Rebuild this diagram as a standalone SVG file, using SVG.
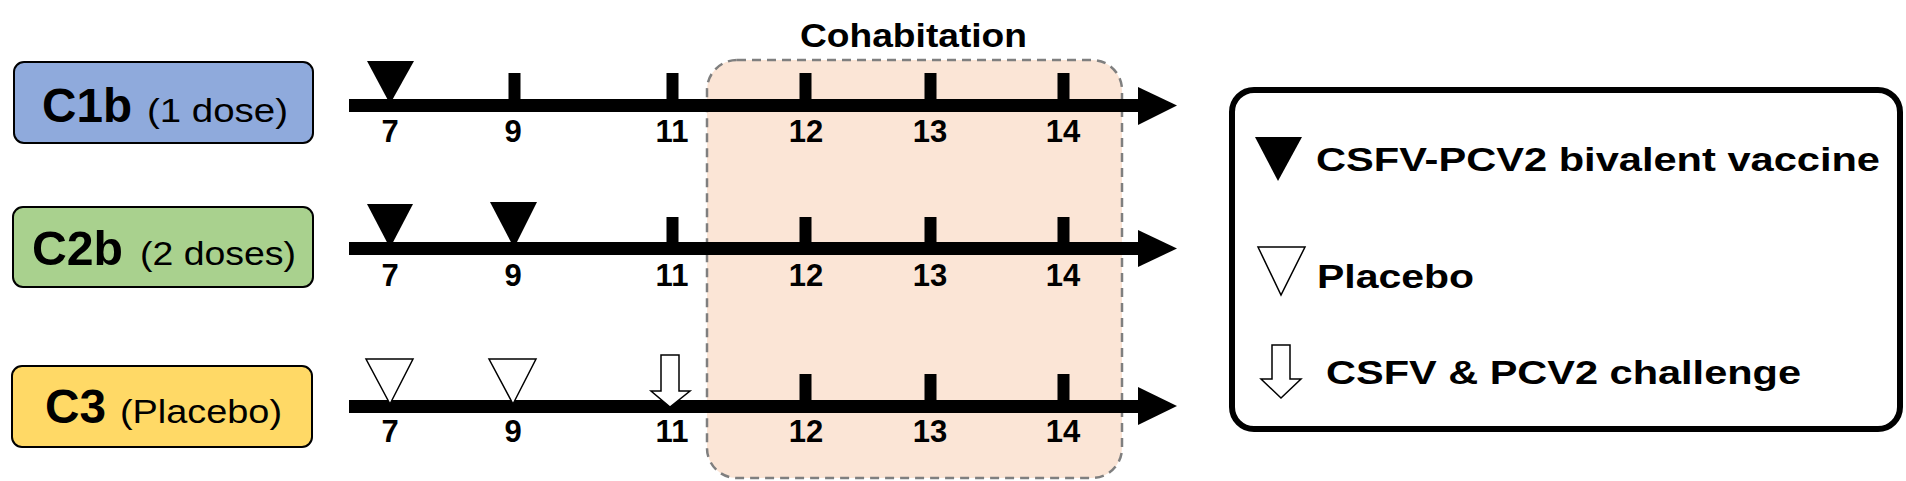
<svg xmlns="http://www.w3.org/2000/svg" width="1906" height="481" viewBox="0 0 1906 481">
<style>
.grp{stroke:#000;stroke-width:2}
.big{font-family:"Liberation Sans",Arial,sans-serif;font-weight:bold;font-size:48px;fill:#000}
.sub{font-family:"Liberation Sans",Arial,sans-serif;font-size:33px;fill:#000}
.num{font-family:"Liberation Sans",Arial,sans-serif;font-weight:bold;font-size:31px;fill:#000;text-anchor:middle}
.leg{font-family:"Liberation Sans",Arial,sans-serif;font-weight:bold;font-size:34px;fill:#000}
.axis{fill:#000}
.vac{fill:#000}
.plc{fill:#fff;stroke:#000;stroke-width:1.5}
</style>
<rect width="1906" height="481" fill="#fff"/>

<g id="cohabitation">
<rect x="707" y="60" width="415" height="418" rx="30" fill="#fbe5d6" stroke="#7f7f7f" stroke-width="2.5" stroke-dasharray="9 6"/>
<text x="800" y="47" class="leg" font-size="32" textLength="227" lengthAdjust="spacingAndGlyphs">Cohabitation</text>
</g>

<g id="C1b">
<rect class="grp" x="14" y="62" width="299" height="81" rx="10" fill="#8faadc"/>
<text x="42" y="122" class="big" textLength="90" lengthAdjust="spacingAndGlyphs">C1b</text>
<text x="147" y="122" class="sub" textLength="141" lengthAdjust="spacingAndGlyphs">(1 dose)</text>
</g>
<g id="C2b">
<rect class="grp" x="13" y="207" width="300" height="80" rx="10" fill="#a9d18e"/>
<text x="32" y="265" class="big" textLength="91" lengthAdjust="spacingAndGlyphs">C2b</text>
<text x="140" y="265" class="sub" textLength="156" lengthAdjust="spacingAndGlyphs">(2 doses)</text>
</g>
<g id="C3">
<rect class="grp" x="12" y="366" width="300" height="81" rx="10" fill="#ffd966"/>
<text x="45" y="423" class="big" textLength="61" lengthAdjust="spacingAndGlyphs">C3</text>
<text x="120" y="423" class="sub" textLength="162" lengthAdjust="spacingAndGlyphs">(Placebo)</text>
</g>

<g id="connectors">
<!-- timeline 1 -->
<rect class="axis" x="349" y="99" width="791" height="13"/>
<polygon class="axis" points="1138,87 1177,105.5 1138,125"/>
<rect class="axis" x="508.5" y="73" width="12" height="30"/>
<rect class="axis" x="666.5" y="73" width="12" height="30"/>
<rect class="axis" x="799.5" y="73" width="12" height="30"/>
<rect class="axis" x="924.5" y="73" width="12" height="30"/>
<rect class="axis" x="1057.5" y="73" width="12" height="30"/>
<polygon class="vac" points="367,61 414,61 390,104"/>
<!-- timeline 2 -->
<rect class="axis" x="349" y="242" width="791" height="13"/>
<polygon class="axis" points="1138,230 1177,248.5 1138,267"/>
<rect class="axis" x="666.5" y="217" width="12" height="30"/>
<rect class="axis" x="799.5" y="217" width="12" height="30"/>
<rect class="axis" x="924.5" y="217" width="12" height="30"/>
<rect class="axis" x="1057.5" y="217" width="12" height="30"/>
<polygon class="vac" points="367,204 413,204 390,248"/>
<polygon class="vac" points="490,202 537,202 514,248"/>
<!-- timeline 3 -->
<rect class="axis" x="349" y="400" width="791" height="13"/>
<polygon class="axis" points="1138,387 1177,406 1138,425"/>
<rect class="axis" x="799.5" y="374" width="12" height="30"/>
<rect class="axis" x="924.5" y="374" width="12" height="30"/>
<rect class="axis" x="1057.5" y="374" width="12" height="30"/>
<polygon class="plc" points="366,359 413,359 390,404"/>
<polygon class="plc" points="489,359 536,359 513,404"/>
<polygon class="plc" points="661,355 679,355 679,391 690,391 670,407 651,391 661,391"/>
</g>

<g id="labels">
<text class="num" x="390" y="142">7</text>
<text class="num" x="513" y="142">9</text>
<text class="num" x="672" y="142">11</text>
<text class="num" x="806" y="142">12</text>
<text class="num" x="930" y="142">13</text>
<text class="num" x="1063" y="142">14</text>
<text class="num" x="390" y="286">7</text>
<text class="num" x="513" y="286">9</text>
<text class="num" x="672" y="286">11</text>
<text class="num" x="806" y="286">12</text>
<text class="num" x="930" y="286">13</text>
<text class="num" x="1063" y="286">14</text>
<text class="num" x="390" y="442">7</text>
<text class="num" x="513" y="442">9</text>
<text class="num" x="672" y="442">11</text>
<text class="num" x="806" y="442">12</text>
<text class="num" x="930" y="442">13</text>
<text class="num" x="1063" y="442">14</text>
</g>

<g id="legend">
<rect x="1232" y="90" width="668" height="339" rx="22" fill="#fff" stroke="#000" stroke-width="6"/>
<polygon class="vac" points="1255,137 1302,137 1278,181"/>
<text x="1316" y="171" class="leg" textLength="564" lengthAdjust="spacingAndGlyphs">CSFV-PCV2 bivalent vaccine</text>
<polygon class="plc" points="1258,247 1305,247 1281,295"/>
<text x="1317" y="288" class="leg" textLength="157" lengthAdjust="spacingAndGlyphs">Placebo</text>
<polygon class="plc" points="1272,345 1290,345 1290,379 1301,379 1281,398 1261,379 1272,379"/>
<text x="1326" y="384" class="leg" textLength="475" lengthAdjust="spacingAndGlyphs">CSFV &amp; PCV2 challenge</text>
</g>
</svg>
